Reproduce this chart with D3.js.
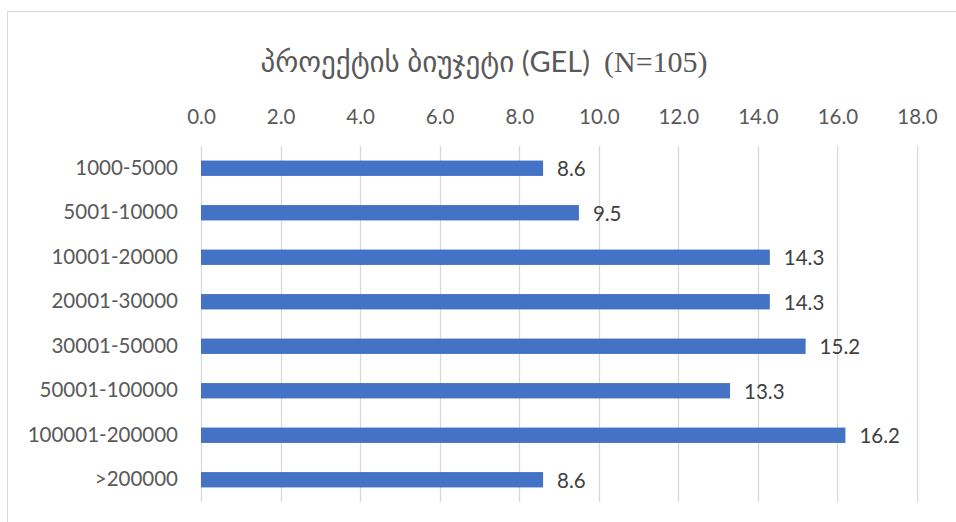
<!DOCTYPE html>
<html><head><meta charset="utf-8">
<script src="https://cdn.jsdelivr.net/npm/d3@7"></script>
<style>body{margin:0;background:#fff}svg{display:block}</style>
</head><body>
<script>
const categories = ["1000-5000","5001-10000","10001-20000","20001-30000","30001-50000","50001-100000","100001-200000",">200000"];
const values = [8.6, 9.5, 14.3, 14.3, 15.2, 13.3, 16.2, 8.6];
const tickValues = [0,2,4,6,8,10,12,14,16,18];
const titleGeo = "პროექტის ბიუჯეტი (GEL)";
const titleN = "(N=105)";

const W = 956, H = 522;
const svg = d3.select("body").append("svg").attr("width", W).attr("height", H);
svg.append("rect").attr("x",7.5).attr("y",11.5).attr("width",1200).attr("height",1200)
  .attr("fill","#fff").attr("stroke","#d9d9d9").attr("stroke-width",1);

const x = d3.scaleLinear().domain([0,18]).range([201,917]);
const y = d3.scaleBand().domain(categories).range([146,502]).paddingInner(0.655).paddingOuter(0.3275);

const sans = "Lato, 'DejaVu Sans', sans-serif";

// gridlines
svg.append("g").selectAll("line").data(tickValues).join("line")
  .attr("x1",d=>Math.round(x(d))+0.5).attr("x2",d=>Math.round(x(d))+0.5)
  .attr("y1",146).attr("y2",502).attr("stroke","#d9d9d9").attr("stroke-width",1.3);

// top axis labels
const ax = svg.append("g").attr("transform","translate(0,124)")
  .call(d3.axisTop(x).tickValues(tickValues).tickFormat(d3.format(".1f")).tickSize(0).tickPadding(0));
ax.select(".domain").remove();
ax.selectAll("text").attr("fill","#595959").style("font-family",sans).style("font-size","20.5px").attr("dy",0);

// category axis
const ay = svg.append("g").attr("transform","translate(178,0)")
  .call(d3.axisLeft(y).tickSize(0).tickPadding(0));
ay.select(".domain").remove();
ay.selectAll("text").attr("fill","#595959").style("font-family",sans).style("font-size","20.5px");

// bars
svg.append("g").selectAll("rect").data(values).join("rect")
  .attr("x",x(0)).attr("y",(d,i)=>y(categories[i]))
  .attr("width",d=>x(d)-x(0)).attr("height",y.bandwidth()).attr("fill","#4472C4");

// value labels
svg.append("g").selectAll("text").data(values).join("text")
  .attr("x",d=>x(d)+14).attr("y",(d,i)=>y(categories[i])+y.bandwidth()/2+1.5)
  .attr("dy","0.32em").attr("fill","#404040").style("font-family",sans).style("font-size","20.5px")
  .text(d=>d3.format(".1f")(d));

// title
const t = svg.append("text").attr("x",484).attr("y",72).attr("text-anchor","middle")
  .attr("fill","#595959").style("font-family",sans).style("font-size","29px");
t.append("tspan").text(titleGeo);
t.append("tspan").attr("dx",14).style("font-family","'Liberation Serif', serif").style("font-size","30px").text(titleN);
</script>
</body></html>
